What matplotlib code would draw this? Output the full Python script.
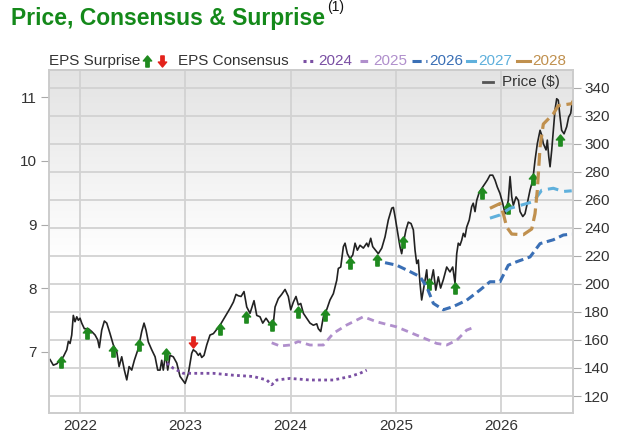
import numpy as np
import matplotlib
matplotlib.use("Agg")
import matplotlib.pyplot as plt
from matplotlib.lines import Line2D
from matplotlib.path import Path
from matplotlib.colors import LinearSegmentedColormap

plt.rcParams['font.family'] = ['Liberation Sans', 'DejaVu Sans']

# price history (x in fractional years, right axis $)
price_t = [2021.715, 2021.746, 2021.779, 2021.841, 2021.874, 2021.889, 2021.905, 2021.921, 2021.936, 2021.952,
           2021.969, 2021.984, 2022.000, 2022.016, 2022.041, 2022.079, 2022.111, 2022.143, 2022.168, 2022.183,
           2022.206, 2022.231, 2022.254, 2022.285, 2022.316, 2022.349, 2022.371, 2022.396, 2022.421, 2022.444,
           2022.466, 2022.491, 2022.516, 2022.554, 2022.586, 2022.608, 2022.627, 2022.649, 2022.681, 2022.713,
           2022.738, 2022.760, 2022.776, 2022.791, 2022.814, 2022.833, 2022.855, 2022.886, 2022.919, 2022.950,
           2022.998, 2023.029, 2023.061, 2023.076, 2023.102, 2023.124, 2023.140, 2023.156, 2023.178, 2023.204,
           2023.235, 2023.267, 2023.330, 2023.378, 2023.425, 2023.457, 2023.482, 2023.504, 2023.530, 2023.558,
           2023.584, 2023.615, 2023.653, 2023.679, 2023.710, 2023.736, 2023.767, 2023.799, 2023.831, 2023.853,
           2023.884, 2023.916, 2023.948, 2023.979, 2024.002, 2024.027, 2024.052, 2024.074, 2024.097, 2024.122,
           2024.154, 2024.185, 2024.217, 2024.249, 2024.264, 2024.287, 2024.312, 2024.343, 2024.375, 2024.407,
           2024.439, 2024.454, 2024.477, 2024.502, 2024.518, 2024.540, 2024.565, 2024.591, 2024.613, 2024.635,
           2024.660, 2024.692, 2024.724, 2024.739, 2024.762, 2024.781, 2024.834, 2024.867, 2024.898, 2024.929,
           2024.962, 2024.977, 2024.993, 2025.019, 2025.040, 2025.056, 2025.072, 2025.097, 2025.119, 2025.145,
           2025.167, 2025.183, 2025.199, 2025.214, 2025.230, 2025.246, 2025.262, 2025.278, 2025.294, 2025.309,
           2025.332, 2025.357, 2025.380, 2025.404, 2025.426, 2025.452, 2025.484, 2025.515, 2025.541, 2025.563,
           2025.579, 2025.594, 2025.610, 2025.626, 2025.642, 2025.658, 2025.674, 2025.698, 2025.721, 2025.736,
           2025.753, 2025.769, 2025.794, 2025.817, 2025.848, 2025.870, 2025.895, 2025.921, 2025.943, 2025.965,
           2025.990, 2026.016, 2026.038, 2026.054, 2026.069, 2026.086, 2026.102, 2026.117, 2026.143, 2026.165,
           2026.181, 2026.207, 2026.228, 2026.250, 2026.276, 2026.302, 2026.323, 2026.345, 2026.371, 2026.387,
           2026.402, 2026.428, 2026.440, 2026.454, 2026.466, 2026.482, 2026.497, 2026.513, 2026.529, 2026.544,
           2026.561, 2026.576, 2026.599, 2026.624, 2026.643, 2026.662, 2026.677]
price_v = [146, 142, 143, 148, 153, 159, 157.5, 163.5, 177.5, 173,
           176.5, 174, 175.5, 172, 168, 168, 166, 163.5, 160, 154.5,
           167, 173.5, 172, 164.5, 156.5, 151.5, 141, 148, 138.5, 131.5,
           141, 138.5, 145.5, 154, 166, 172, 167, 158.5, 153, 148,
           138.5, 138.5, 145.5, 138.5, 150.5, 138.5, 149, 148, 143.5, 134,
           129, 136, 150.5, 153, 151.5, 149, 150.5, 147.5, 149, 156.5,
           163.5, 164.5, 170.5, 176.5, 182.5, 187, 192.5, 191.5, 191, 194.5,
           183.5, 179, 188, 177.5, 176.5, 172, 175.5, 172, 168, 183.5,
           189.5, 192.5, 196, 191, 181.5, 187, 191, 185, 186, 179,
           175.5, 172, 170.5, 171.5, 168, 166, 176.5, 181.5, 188.5, 193,
           202.5, 211, 212, 226.5, 229, 221.5, 218, 220.5, 229, 224,
           227.5, 225.5, 229, 226.5, 232.5, 226.5, 221.5, 225.5, 233.5, 245.5,
           254, 254.5, 248, 236, 226.5, 221.5, 229, 238.5, 244, 243,
           238.5, 224, 214.5, 217, 200.5, 188.5, 195.5, 202.5, 210, 195.5,
           200.5, 210, 195.5, 205, 197, 203, 212, 208.5, 212, 200.5,
           221.5, 229, 227.5, 231, 236, 233.5, 240.5, 245.5, 255, 257.5,
           251.5, 259.5, 265.5, 268, 271.5, 274, 277.5, 277.5, 274, 269,
           264.5, 257.5, 250, 255, 259.5, 276.5, 262, 256, 262, 259.5,
           251.5, 248, 250, 257.5, 267, 274, 288, 300, 309.5, 306,
           300, 295.5, 302.5, 290.5, 283.5, 295.5, 309.5, 324, 332, 331,
           319, 309.5, 307, 312, 319, 321.5, 329.5]

# EPS consensus by fiscal year (left axis)
c2024_t = [2022.824, 2022.886, 2022.981, 2023.140, 2023.267, 2023.457, 2023.647, 2023.774, 2023.821, 2023.869,
           2023.995, 2024.185, 2024.407, 2024.565, 2024.660, 2024.724]
c2024_v = [6.82, 6.74, 6.66, 6.66, 6.66, 6.63, 6.61, 6.555, 6.48, 6.555,
           6.58, 6.555, 6.555, 6.61, 6.66, 6.71]
c2025_t = [2023.821, 2023.900, 2023.995, 2024.074, 2024.185, 2024.312, 2024.407, 2024.534, 2024.692, 2024.819,
           2025.009, 2025.199, 2025.389, 2025.484, 2025.579, 2025.674, 2025.721]
c2025_v = [7.14, 7.09, 7.105, 7.16, 7.105, 7.105, 7.29, 7.42, 7.55, 7.47,
           7.39, 7.26, 7.13, 7.105, 7.18, 7.34, 7.37]
c2026_t = [2024.898, 2025.009, 2025.135, 2025.230, 2025.294, 2025.357, 2025.452, 2025.547, 2025.674, 2025.800,
           2025.895, 2025.990, 2026.069, 2026.149, 2026.276, 2026.371, 2026.497, 2026.592, 2026.672]
c2026_v = [8.40, 8.36, 8.26, 8.18, 8.02, 7.76, 7.66, 7.71, 7.81, 7.97,
           8.10, 8.10, 8.36, 8.415, 8.49, 8.70, 8.76, 8.835, 8.85]
c2027_t = [2025.895, 2025.990, 2026.086, 2026.244, 2026.307, 2026.387, 2026.497, 2026.592, 2026.672]
c2027_v = [9.10, 9.15, 9.255, 9.33, 9.36, 9.54, 9.57, 9.52, 9.53]
c2028_t = [2025.895, 2025.990, 2026.022, 2026.054, 2026.102, 2026.212, 2026.292, 2026.323, 2026.345, 2026.371,
           2026.402, 2026.497, 2026.544, 2026.672, 2026.688]
c2028_v = [9.255, 9.33, 9.17, 8.96, 8.85, 8.84, 8.93, 9.17, 9.54, 10.22,
           10.58, 10.74, 10.87, 10.90, 10.95]

# EPS surprise markers (placed on price scale)
beat_t = [2021.819, 2022.069, 2022.316, 2022.563, 2022.814, 2023.330, 2023.577, 2023.827, 2024.074, 2024.328,
          2024.565, 2024.819, 2025.072, 2025.319, 2025.563, 2025.817, 2026.069, 2026.307, 2026.561]
beat_v = [144.4, 164.7, 152.3, 156.3, 149.9, 167.5, 176.5, 170.6, 180.1, 177.7,
          214.6, 216.9, 230, 199.8, 196.7, 264.9, 253.8, 275.1, 302.4]
miss_t = [2023.076]
miss_v = [158.3]

year_ticks = [2022, 2023, 2024, 2025, 2026]
eps_ticks = [7, 8, 9, 10, 11]
price_ticks = list(range(120, 341, 20))

W, H = 619, 436
fig = plt.figure(figsize=(W / 100, H / 100), dpi=100)
fig.patch.set_facecolor('white')

ax2 = fig.add_axes([49 / W, 1 - 413 / H, (573 - 49) / W, (413 - 70) / H])
ax = ax2.twinx()
ax.yaxis.tick_left()
ax.yaxis.set_label_position('left')
ax2.yaxis.tick_right()
ax.set_zorder(ax2.get_zorder() + 1)
ax.patch.set_visible(False)

# gradient background
grad = np.linspace(0, 1, 256).reshape(-1, 1)
cmap = LinearSegmentedColormap.from_list('bg', [(0, '#e3e3e3'), (0.55, '#ffffff'), (1, '#ffffff')])
ax2.imshow(grad, extent=(0, 1, 0, 1), transform=ax2.transAxes, aspect='auto', cmap=cmap, zorder=0)

xlim = (2021.705, 2026.684)
ax2.set_xlim(xlim)
ax2.set_ylim(107.9, 352.5)
ax.set_ylim(6.036, 11.43)

ax2.set_axisbelow(True)
ax2.set_yticks(price_ticks)
ax2.set_xticks(year_ticks)
ax2.set_xticklabels([str(y) for y in year_ticks])
ax2.grid(True, color='#d2d2d2', linewidth=1.3)
ax.set_yticks(eps_ticks)

for a in (ax, ax2):
    for s in a.spines.values():
        s.set_color('#cccccc')
        s.set_linewidth(1.2)
ax2.tick_params(axis='y', length=6, color='#aaaaaa', labelsize=11, labelcolor='#333333', pad=2)
ax.tick_params(axis='y', length=6, color='#aaaaaa', labelsize=11, labelcolor='#333333', pad=3)
ax2.tick_params(axis='x', length=0, labelsize=11, labelcolor='#333333', pad=4)

# consensus lines
ax.plot(c2024_t, c2024_v, color='#7a4fa3', lw=2, linestyle=(0, (1, 1.2)))
ax.plot(c2025_t, c2025_v, color='#b08fcc', lw=2, linestyle=(0, (2.5, 1.8)))
ax.plot(c2026_t, c2026_v, color='#3a6fb5', lw=2.2, linestyle=(0, (2.8, 1.5)))
ax.plot(c2027_t, c2027_v, color='#5fb0dc', lw=2.2, linestyle=(0, (3.5, 2)))
ax.plot(c2028_t, c2028_v, color='#c0904e', lw=2.3, linestyle=(0, (4, 1.8)))

# price line
ax2.plot(price_t, price_v, color='#222222', lw=1.2, zorder=3)

# arrow markers
up = Path([(0, 1), (-0.75, 0.1), (-0.3, 0.1), (-0.3, -1), (0.3, -1), (0.3, 0.1), (0.75, 0.1), (0, 1)],
          [Path.MOVETO] + [Path.LINETO] * 6 + [Path.CLOSEPOLY])
down = Path([(x, -y) for x, y in up.vertices], up.codes)
ax.plot([], [])
ax2.plot(beat_t, beat_v, linestyle='none', marker=up, markersize=8, color='#1f8a1f', zorder=4)
ax2.plot(miss_t, miss_v, linestyle='none', marker=down, markersize=8, color='#e3221b', zorder=4)

# title
fig.text(11 / W, 1 - 18 / H, 'Price, Consensus & Surprise', color='#14891a', fontsize=16.5,
         fontweight='bold', va='center', ha='left')
fig.text(327 / W, 1 - 7 / H, '(1)', color='#111111', fontsize=10, va='center', ha='left')

# legend row
ly = 1 - 61 / H
tc = '#333333'
fig.text(49 / W, ly, 'EPS Surprise', fontsize=11, color=tc, va='center', ha='left')
fig.add_artist(Line2D([147 / W], [ly], marker=up, markersize=8, color='#1f8a1f', linestyle='none'))
fig.add_artist(Line2D([162 / W], [ly], marker=down, markersize=8, color='#e3221b', linestyle='none'))
fig.text(178 / W, ly, 'EPS Consensus', fontsize=11, color=tc, va='center', ha='left')

legend_items = [
    ('2024', '#7a4fa3', (0, (1, 1.2)), 303, 316, 318),
    ('2025', '#b08fcc', (0, (2.5, 1.8)), 360, 371, 373),
    ('2026', '#3a6fb5', (0, (3, 1.5, 1, 1.5)), 412, 427, 429),
    ('2027', '#5fb0dc', '-', 467, 475, 478),
    ('2028', '#c0904e', '-', 517, 530, 532),
]
for lab, col, ls, x0, x1, xt in legend_items:
    fig.add_artist(Line2D([x0 / W, x1 / W], [ly, ly], color=col, lw=2.2, linestyle=ls))
    fig.text(xt / W, ly, lab, fontsize=11, color=col, va='center', ha='left')

# price legend inside plot
py = 1 - 82 / H
fig.add_artist(Line2D([483 / W, 493 / W], [py, py], color='#555555', lw=2))
fig.text(502 / W, py, 'Price ($)', fontsize=11, color=tc, va='center', ha='left')

fig.savefig('out.png', dpi=100)
